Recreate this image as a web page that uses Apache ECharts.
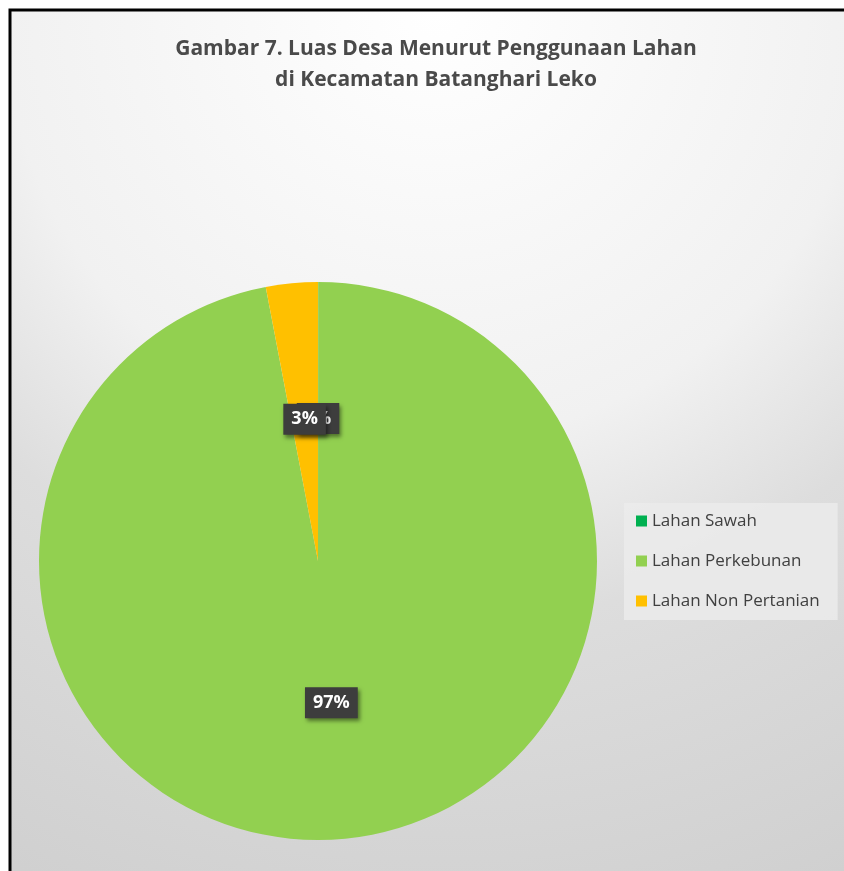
<!DOCTYPE html>
<html>
<head>
<meta charset="utf-8">
<script src="https://cdn.jsdelivr.net/npm/echarts@6/dist/echarts.min.js"></script>
<style>
  html, body { margin: 0; padding: 0; background: #ffffff; }
  #chart { width: 844px; height: 871px; }
</style>
</head>
<body>
<div id="chart"></div>
<script>
// data
var categories = ["Lahan Sawah", "Lahan Perkebunan", "Lahan Non Pertanian"];
var shares = [0.01, 96.99, 3];
var colors = ["#00B050", "#92D050", "#FFC000"];

var myChart = echarts.init(document.getElementById("chart"));

var option = {
  animation: false,
  graphic: [
    {
      type: "rect",
      z: -10,
      shape: { x: 10, y: 10, width: 850, height: 880 },
      style: {
        fill: {
          type: "radial",
          x: 0.5, y: 0, r: 1.15,
          colorStops: [
            { offset: 0, color: "#ffffff" },
            { offset: 0.44, color: "#f1f1f1" },
            { offset: 0.63, color: "#dddddd" },
            { offset: 1, color: "#cfcfcf" }
          ]
        },
        stroke: "#000000",
        lineWidth: 3
      }
    }
  ],
  title: {
    text: "Gambar 7. Luas Desa Menurut Penggunaan Lahan\ndi Kecamatan Batanghari Leko",
    left: 431,
    textAlign: "center",
    top: 29,
    textStyle: {
      fontFamily: "Open Sans",
      fontWeight: "bold",
      fontSize: 21,
      lineHeight: 31,
      color: "#4a4a4a"
    }
  },
  legend: {
    orient: "vertical",
    left: 624,
    top: 503,
    padding: [8, 18, 9, 12],
    itemGap: 20,
    itemWidth: 11,
    itemHeight: 11,
    icon: "rect",
    backgroundColor: "rgba(235,235,235,0.85)",
    data: categories,
    textStyle: { fontFamily: "Open Sans", fontSize: 17, lineHeight: 20, color: "#404040" }
  },
  series: [
    {
      type: "pie",
      center: [318, 561],
      radius: [0, 279],
      startAngle: 90,
      clockwise: true,
      minShowLabelAngle: 0,
      data: categories.map(function (c, i) {
        return { name: c, value: shares[i], itemStyle: { color: colors[i] } };
      }),
      label: {
        position: "inside",
        formatter: function (p) { return Math.round(p.percent) + "%"; },
        fontFamily: "Open Sans",
        fontWeight: "bold",
        fontSize: 18,
        color: "#ffffff",
        backgroundColor: "#3d3d3d",
        padding: [7, 8, 6, 8],
        shadowBlur: 4,
        shadowOffsetX: 2,
        shadowOffsetY: 3,
        shadowColor: "rgba(0,0,0,0.45)"
      },
      labelLayout: { hideOverlap: false },
      labelLine: { show: false },
      emphasis: { disabled: true }
    }
  ]
};

myChart.setOption(option);
</script>
</body>
</html>
